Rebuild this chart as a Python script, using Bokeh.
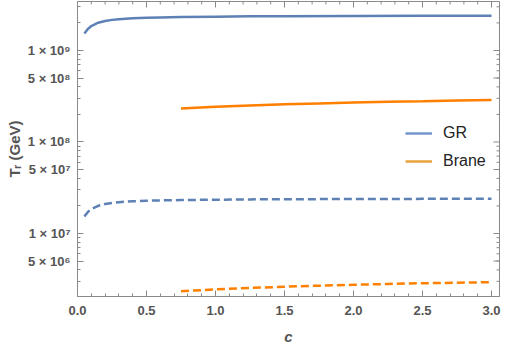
import math
from bokeh.plotting import figure
from bokeh.models import FixedTicker, Range1d, Legend, LegendItem, NumeralTickFormatter
from bokeh.embed import file_html
from bokeh.resources import INLINE

# ---- data ----
c_gr = [0.05, 0.075, 0.1, 0.15, 0.2, 0.25, 0.3, 0.4, 0.5, 0.6, 0.75, 1.0, 1.25, 1.5, 2.0, 2.5, 3.0]
T_gr_solid = [1.53e9, 1.72e9, 1.85e9, 2.01e9, 2.10e9, 2.16e9, 2.20e9, 2.25e9, 2.28e9, 2.30e9,
              2.32e9, 2.34e9, 2.36e9, 2.37e9, 2.38e9, 2.39e9, 2.40e9]
T_gr_dashed = [1.53e7, 1.72e7, 1.85e7, 2.01e7, 2.10e7, 2.16e7, 2.20e7, 2.25e7, 2.28e7, 2.30e7,
               2.32e7, 2.34e7, 2.36e7, 2.37e7, 2.38e7, 2.39e7, 2.40e7]
c_brane = [0.75, 1.0, 1.25, 1.5, 1.75, 2.0, 2.25, 2.5, 2.75, 3.0]
T_brane_solid = [2.32e8, 2.43e8, 2.51e8, 2.58e8, 2.64e8, 2.70e8, 2.75e8, 2.79e8, 2.84e8, 2.88e8]
T_brane_dashed = [2.34e6, 2.45e6, 2.54e6, 2.62e6, 2.69e6, 2.75e6, 2.81e6, 2.86e6, 2.90e6, 2.94e6]

x_ticks = [0.0, 0.5, 1.0, 1.5, 2.0, 2.5, 3.0]
y_ticks = [5e6, 1e7, 5e7, 1e8, 5e8, 1e9]
y_tick_labels = ["5 × 10⁶", "1 × 10⁷", "5 × 10⁷", "1 × 10⁸", "5 × 10⁸", "1 × 10⁹"]
legend_labels = ["GR", "Brane"]

BLUE = "#5E81B5"
ORANGE = "#FF8000"
AX = "#8a8a8a"
TXT = "#555555"
NAN = float("nan")

X0, X1 = 0.0, 3.058
Y0, Y1 = 2.049e6, 3.43e9

p = figure(frame_width=422, frame_height=295, y_axis_type="log", output_backend="svg",
           toolbar_location=None,
           x_range=Range1d(X0, X1), y_range=Range1d(Y0, Y1),
           min_border_left=77, min_border_right=6, min_border_top=1, min_border_bottom=50)
p.outline_line_color = AX
p.grid.visible = False
p.background_fill_color = "white"

x_minor = [round(0.1 * i, 1) for i in range(0, 31) if i % 5 != 0]
y_minor = [m * 10 ** e for e in range(6, 10) for m in range(2, 10)]
xt = FixedTicker(ticks=x_ticks, minor_ticks=x_minor)
yt = FixedTicker(ticks=y_ticks, minor_ticks=y_minor)


def style_axis(ax):
    ax.axis_line_color = AX
    ax.major_tick_line_color = AX
    ax.minor_tick_line_color = AX
    ax.major_tick_in = 6
    ax.major_tick_out = 0
    ax.minor_tick_in = 3
    ax.minor_tick_out = 0
    ax.major_label_text_color = TXT
    ax.major_label_text_font = "Liberation Sans"
    ax.major_label_text_font_style = "bold"
    ax.major_label_text_font_size = "13px"
    ax.axis_label_text_color = TXT
    ax.axis_label_text_font = "Liberation Sans"


xa = p.xaxis[0]
xa.ticker = xt
xa.formatter = NumeralTickFormatter(format="0.0")
style_axis(xa)
xa.major_label_standoff = 9
xa.axis_label = "c"
xa.axis_label_text_font_style = "bold italic"
xa.axis_label_text_font_size = "15px"
xa.axis_label_standoff = 10

ya = p.yaxis[0]
ya.ticker = yt
ya.major_label_overrides = {t: l for t, l in zip(y_ticks, y_tick_labels)}
style_axis(ya)
ya.major_label_standoff = 7
ya.axis_label = "Tᵣ (GeV)"
ya.axis_label_text_font_style = "bold"
ya.axis_label_text_font_size = "15px"
ya.axis_label_standoff = 2

# ticks on the top and right frame edges (clipped dash markers, half inside the frame)
p.scatter(x_ticks, [Y1] * len(x_ticks), marker="dash", angle=math.pi / 2, size=12,
          line_color=AX, line_width=1)
p.scatter(x_minor, [Y1] * len(x_minor), marker="dash", angle=math.pi / 2, size=6,
          line_color=AX, line_width=1)
p.scatter([X1] * len(y_ticks), y_ticks, marker="dash", size=12, line_color=AX, line_width=1)
p.scatter([X1] * len(y_minor), y_minor, marker="dash", size=6, line_color=AX, line_width=1)

p.line(c_gr, T_gr_solid, line_color=BLUE, line_width=2.5)
p.line(c_gr, T_gr_dashed, line_color=BLUE, line_width=2.5, line_dash="8 4")
p.line(c_brane, T_brane_solid, line_color=ORANGE, line_width=2.5)
p.line(c_brane, T_brane_dashed, line_color=ORANGE, line_width=2.5, line_dash="8 4")

# legend swatches (Mathematica style, lighter)
lg_gr = p.line([NAN], [NAN], line_color="#7395CA", line_width=2.5)
lg_br = p.line([NAN], [NAN], line_color="#E8A23C", line_width=2.5)

legend = Legend(items=[LegendItem(label=legend_labels[0], renderers=[lg_gr]),
                       LegendItem(label=legend_labels[1], renderers=[lg_br])],
                location=(328, 125), orientation="vertical")
legend.background_fill_alpha = 0
legend.border_line_alpha = 0
legend.padding = 0
legend.margin = 0
legend.spacing = 8
legend.glyph_width = 27
legend.glyph_height = 20
legend.label_height = 20
legend.label_standoff = 11
legend.label_text_font = "Liberation Sans"
legend.label_text_font_size = "16px"
legend.label_text_color = "#222222"
p.add_layout(legend, "center")

open("out.html", "w").write(file_html(p, INLINE))
